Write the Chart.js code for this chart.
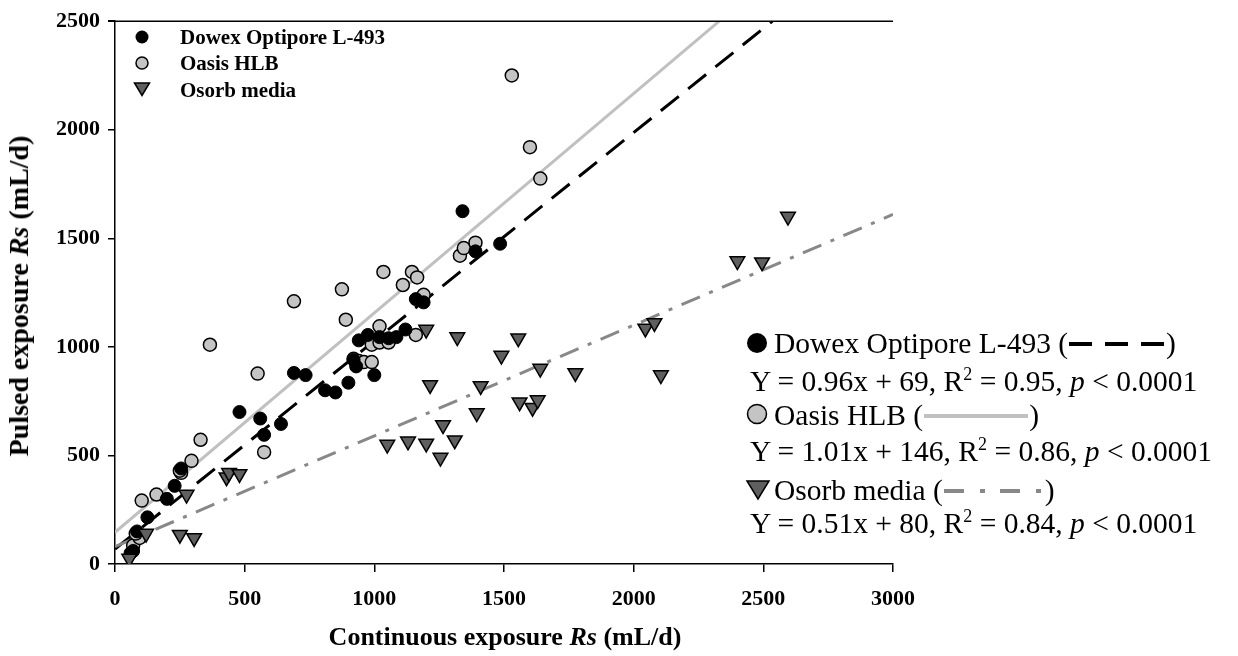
<!DOCTYPE html>
<html>
<head>
<meta charset="utf-8">
<title>Pulsed vs continuous exposure Rs</title>
<script src="https://cdn.jsdelivr.net/npm/chart.js@4.4.1/dist/chart.umd.min.js"></script>
<style>
    body { margin: 0; background: #fff; }
    #wrap { position: relative; width: 1238px; height: 656px; font-family: 'Liberation Serif', 'Times New Roman', serif; color: #000; }
    #chart { position: absolute; left: 0; top: 0; }
    .t { position: absolute; white-space: nowrap; }
    .axis-title { font-weight: bold; font-size: 26px; }
    .inner { font-weight: bold; font-size: 21px; line-height: 24px; }
    .eq { font-size: 29.5px; line-height: 36px; }
    .eq sup { font-size: 18px; vertical-align: 11px; line-height: 0; }
    .sample { display: inline-block; height: 4px; vertical-align: middle; margin: 0 1px; position: relative; top: -2px; }
</style>
</head>
<body>
<div id="wrap">
    <canvas id="chart" width="1238" height="656"></canvas>

    <!-- axis titles -->
    <div class="t axis-title" id="x-title" style="left:505px; top:637px; transform:translate(-50%,-50%);">Continuous exposure <i>Rs</i> (mL/d)</div>
    <div class="t axis-title" id="y-title" style="left:19px; top:296px; font-size:28px; transform:translate(-50%,-50%) rotate(-90deg);">Pulsed exposure <i>Rs</i> (mL/d)</div>

    <!-- legend inside the plot -->
    <svg class="t" style="left:134px; top:29px;" width="16" height="16"><circle cx="8" cy="8" r="6.5" fill="#000"/></svg>
    <div class="t inner" style="left:180px; top:25px;">Dowex Optipore L-493</div>
    <svg class="t" style="left:134px; top:55px;" width="16" height="16"><circle cx="8" cy="8" r="6" fill="#c4c4c4" stroke="#000" stroke-width="1.5"/></svg>
    <div class="t inner" style="left:180px; top:51px;">Oasis HLB</div>
    <svg class="t" style="left:133px; top:81px;" width="18" height="16"><polygon points="1.5,2 16.5,2 9,14.5" fill="#5f5f5f" stroke="#000" stroke-width="1.5"/></svg>
    <div class="t inner" style="left:180px; top:78px;">Osorb media</div>

    <!-- regression legend on the right -->
    <svg class="t" style="left:746px; top:332px;" width="22" height="22"><circle cx="11" cy="11" r="10" fill="#000"/></svg>
    <div class="t eq" style="left:774px; top:325px;">Dowex Optipore L-493 (<span class="sample" style="width:96px; background:repeating-linear-gradient(to right,#000 0 23px,transparent 23px 36px);"></span>)</div>
    <div class="t eq" style="left:750px; top:363px;">Y = 0.96x + 69, R<sup>2</sup> = 0.95, <i>p</i> &lt; 0.0001</div>
    <svg class="t" style="left:746px; top:403px;" width="22" height="22"><circle cx="11" cy="11" r="9.5" fill="#c4c4c4" stroke="#000" stroke-width="1.5"/></svg>
    <div class="t eq" style="left:774px; top:397px;">Oasis HLB (<span class="sample" style="width:104px; background:#c0c0c0;"></span>)</div>
    <div class="t eq" style="left:750px; top:433px;">Y = 1.01x + 146, R<sup>2</sup> = 0.86, <i>p</i> &lt; 0.0001</div>
    <svg class="t" style="left:745px; top:479px;" width="26" height="22"><polygon points="2,2 24,2 13,20" fill="#5f5f5f" stroke="#000" stroke-width="1.5"/></svg>
    <div class="t eq" style="left:774px; top:472px;">Osorb media (<span class="sample" style="width:100px; background:repeating-linear-gradient(to right,#888 0 20px,transparent 20px 36px,#888 36px 41px,transparent 41px 56px);"></span>)</div>
    <div class="t eq" style="left:750px; top:505px;">Y = 0.51x + 80, R<sup>2</sup> = 0.84, <i>p</i> &lt; 0.0001</div>
</div>

<script>
// --- Data (mL/d) ---
const dowexX = [60, 70, 85, 125, 200, 230, 255, 480, 560, 575, 640, 690, 735, 810, 850, 900, 920, 930, 940, 975, 1000, 1020, 1055, 1085, 1120, 1160, 1190, 1340, 1390, 1485];
const dowexY = [50, 60, 150, 215, 300, 360, 440, 700, 670, 595, 645, 880, 870, 800, 790, 835, 940, 910, 1030, 1055, 870, 1045, 1040, 1045, 1080, 1220, 1205, 1625, 1440, 1475];

const oasisX = [70, 95, 80, 103, 160, 255, 250, 295, 330, 366, 550, 575, 690, 875, 890, 920, 940, 960, 990, 990, 1020, 1020, 1035, 1055, 1110, 1145, 1160, 1165, 1190, 1330, 1345, 1390, 1530, 1600, 1640];
const oasisY = [85, 120, 140, 292, 320, 420, 430, 475, 572, 1010, 877, 515, 1210, 1265, 1125, 945, 935, 930, 930, 1010, 1020, 1095, 1345, 1020, 1285, 1345, 1055, 1320, 1240, 1420, 1455, 1480, 2250, 1920, 1775];

const osorbX = [55, 120, 250, 276, 305, 430, 440, 480, 1050, 1130, 1200, 1200, 1215, 1255, 1265, 1310, 1320, 1395, 1410, 1490, 1555, 1560, 1610, 1630, 1640, 1775, 2045, 2080, 2105, 2400, 2495, 2595];
const osorbY = [25, 140, 135, 320, 120, 400, 420, 415, 550, 565, 555, 1080, 825, 490, 640, 570, 1045, 695, 820, 960, 1040, 745, 720, 755, 900, 880, 1085, 1110, 870, 1395, 1390, 1600];

// regression line end points, as drawn in the figure
const dowexFitX = [0, 2535];
const dowexFitY = [69, 2500];
const oasisFitX = [0, 2330];
const oasisFitY = [146, 2500];
const osorbFitX = [0, 3000];
const osorbFitY = [80, 1610];

const xTicks = [0, 500, 1000, 1500, 2000, 2500, 3000];
const yTicks = [0, 500, 1000, 1500, 2000, 2500];

// --- Helpers ---
const toPoints = (xs, ys) => xs.map((x, i) => ({ x: x, y: ys[i] }));

const tickFont = { family: "'Liberation Serif', 'Times New Roman', serif", size: 22, weight: 'bold' };

function fitLine(xs, ys, color, dash) {
    return {
        type: 'line',
        data: toPoints(xs, ys),
        borderColor: color,
        borderWidth: 3,
        borderDash: dash,
        pointRadius: 0,
        fill: false,
        order: 10
    };
}

// top frame line
const topFrame = {
    id: 'topFrame',
    afterDraw(chart) {
        const a = chart.chartArea;
        const c = chart.ctx;
        c.save();
        c.strokeStyle = '#000';
        c.lineWidth = 1.5;
        c.beginPath();
        c.moveTo(a.left - 7, a.top);
        c.lineTo(a.right, a.top);
        c.stroke();
        c.restore();
    }
};

new Chart(document.getElementById('chart').getContext('2d'), {
    type: 'scatter',
    data: {
        datasets: [
            {
                label: 'Osorb media',
                data: toPoints(osorbX, osorbY),
                pointStyle: 'triangle',
                rotation: 180,
                pointRadius: 8.5,
                backgroundColor: '#5f5f5f',
                borderColor: '#000',
                borderWidth: 1.5,
                order: 1
            },
            {
                label: 'Dowex Optipore L-493',
                data: toPoints(dowexX, dowexY),
                pointStyle: 'circle',
                pointRadius: 6.5,
                backgroundColor: '#000',
                borderColor: '#000',
                borderWidth: 1,
                order: 2
            },
            {
                label: 'Oasis HLB',
                data: toPoints(oasisX, oasisY),
                pointStyle: 'circle',
                pointRadius: 6.5,
                backgroundColor: '#c4c4c4',
                borderColor: '#000',
                borderWidth: 1.5,
                order: 3
            },
            fitLine(osorbFitX, osorbFitY, '#888', [20, 10, 4, 10]),
            fitLine(oasisFitX, oasisFitY, '#c0c0c0', []),
            fitLine(dowexFitX, dowexFitY, '#000', [23, 12])
        ]
    },
    options: {
        responsive: false,
        animation: false,
        layout: { padding: { left: 0, right: 345, top: 17, bottom: 0 } },
        plugins: {
            legend: { display: false },
            tooltip: { enabled: false }
        },
        scales: {
            x: {
                type: 'linear',
                min: 0,
                max: 3000,
                afterBuildTicks: s => { s.ticks = xTicks.map(v => ({ value: v })); },
                afterFit: s => { s.height = 92; },
                ticks: { color: '#000', font: tickFont, padding: 14, callback: v => String(v) },
                grid: { drawOnChartArea: false, tickLength: 8, color: '#000', lineWidth: 1.5 },
                border: { color: '#000', width: 1.5 }
            },
            y: {
                type: 'linear',
                min: 0,
                max: 2500,
                afterBuildTicks: s => { s.ticks = yTicks.map(v => ({ value: v })); },
                afterFit: s => { s.width = 115; },
                ticks: { color: '#000', font: tickFont, padding: 8, callback: v => String(v) },
                grid: { drawOnChartArea: false, tickLength: 7, color: '#000', lineWidth: 1.5 },
                border: { color: '#000', width: 1.5 }
            }
        }
    },
    plugins: [topFrame]
});
</script>
</body>
</html>
